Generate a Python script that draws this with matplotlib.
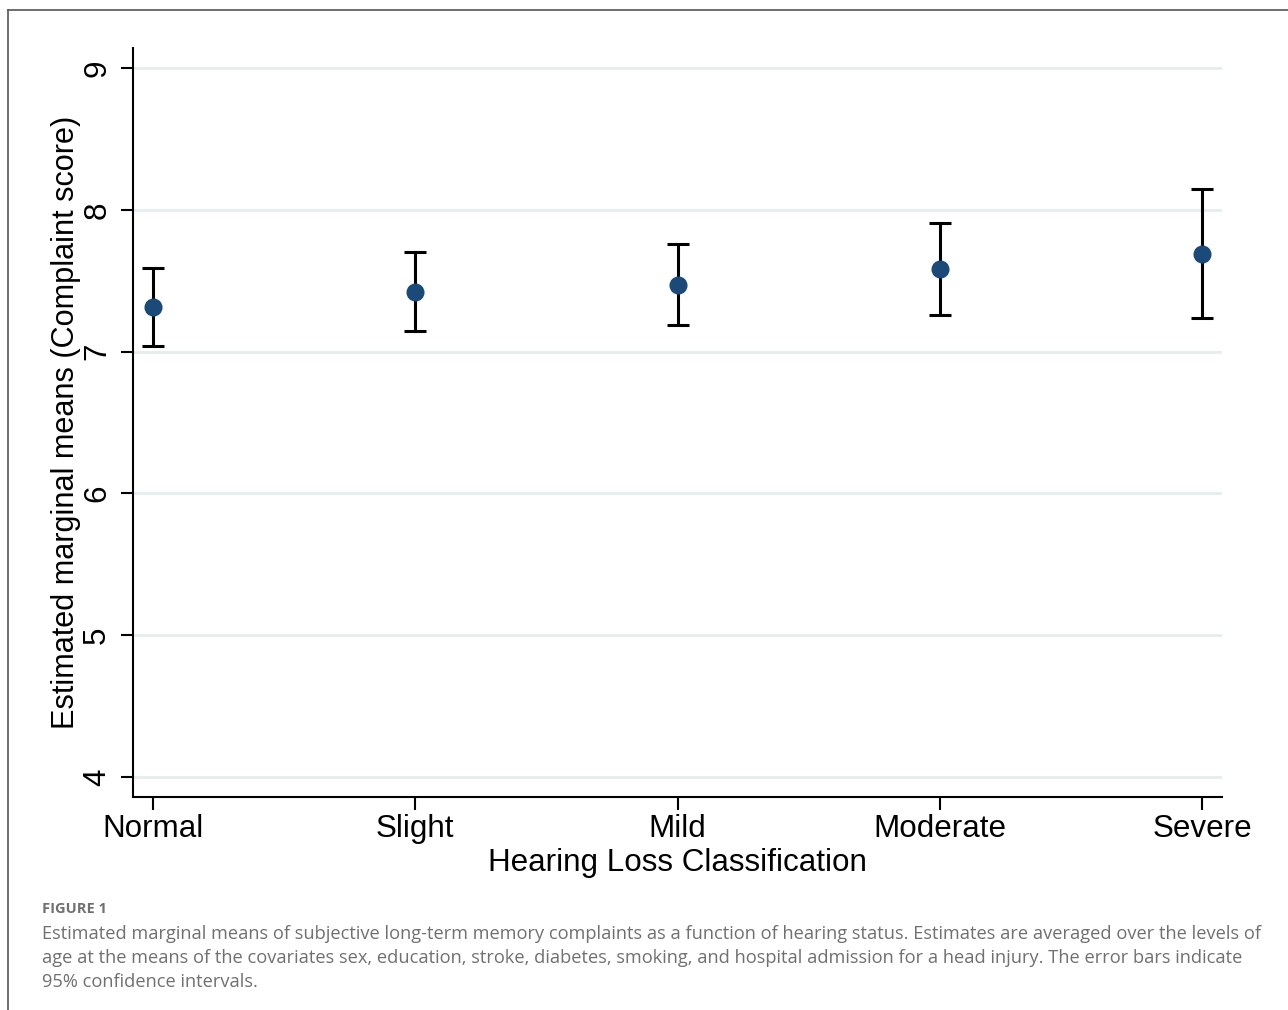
import matplotlib.pyplot as plt
import numpy as np

# Estimated marginal means with 95% CI by hearing loss group
categories = ["Normal", "Slight", "Mild", "Moderate", "Severe"]
means = [7.315, 7.42, 7.47, 7.58, 7.69]
ci_low = [7.04, 7.145, 7.19, 7.26, 7.24]
ci_high = [7.59, 7.70, 7.76, 7.91, 8.15]
yticks = [4, 5, 6, 7, 8, 9]

caption_title = "FIGURE 1"
caption = ("Estimated marginal means of subjective long-term memory complaints as a function of hearing status. Estimates are averaged over the levels of\n"
           "age at the means of the covariates sex, education, stroke, diabetes, smoking, and hospital admission for a head injury. The error bars indicate\n"
           "95% confidence intervals.")

plt.rcParams['font.family'] = ['Liberation Sans', 'DejaVu Sans']

fig = plt.figure(figsize=(12.88, 10.10), dpi=100)
ax = fig.add_axes([133 / 1288, 1 - 797 / 1010, (1222 - 133) / 1288, (797 - 48) / 1010])

x = np.arange(1, len(categories) + 1)
means = np.array(means)
lower = means - np.array(ci_low)
upper = np.array(ci_high) - means

for y in yticks:
    ax.axhline(y, color='#e6edee', lw=2, zorder=0)

ax.errorbar(x, means, yerr=[lower, upper], fmt='none', ecolor='black',
            elinewidth=2.2, capsize=8, capthick=2.2, zorder=2)
ax.plot(x, means, 'o', color='#1b4a78', markersize=12, zorder=3)

ax.set_xlim(1 - 20 / 262.25, 5 + 20 / 262.25)
ax.set_ylim(4 - 20 / 141.8, 9 + 20 / 141.8)
ax.set_xticks(x)
ax.set_xticklabels(categories)
ax.set_yticks(yticks)
ax.set_yticklabels([str(v) for v in yticks], rotation=90, va='center')
ax.tick_params(axis='both', labelsize=22.6, length=9, width=1.5, direction='out')
ax.tick_params(axis='x', pad=3)
ax.tick_params(axis='y', pad=6)

for side in ['top', 'right']:
    ax.spines[side].set_visible(False)
for side in ['left', 'bottom']:
    ax.spines[side].set_linewidth(1.5)

ax.set_xlabel("Hearing Loss Classification", fontsize=22.6, labelpad=3)
ax.set_ylabel("Estimated marginal means (Complaint score)", fontsize=22.1, labelpad=1)

# page frame lines
fig.add_artist(plt.Line2D([8 / 1288, 8 / 1288], [0, 1 - 10 / 1010], color='#555555', lw=1.2))
fig.add_artist(plt.Line2D([8 / 1288, 1], [1 - 10 / 1010, 1 - 10 / 1010], color='#555555', lw=1.2))

fig.text(42 / 1288, 1 - 909 / 1010, caption_title, fontsize=10.5, fontweight='bold',
         color='#707070', family=['Open Sans', 'DejaVu Sans'], va='center')
fig.text(42 / 1288, 1 - 925 / 1010, caption, fontsize=13.15, color='#707070',
         family=['Open Sans', 'DejaVu Sans'], va='top', linespacing=1.42)

fig.savefig('out.png', dpi=100)
